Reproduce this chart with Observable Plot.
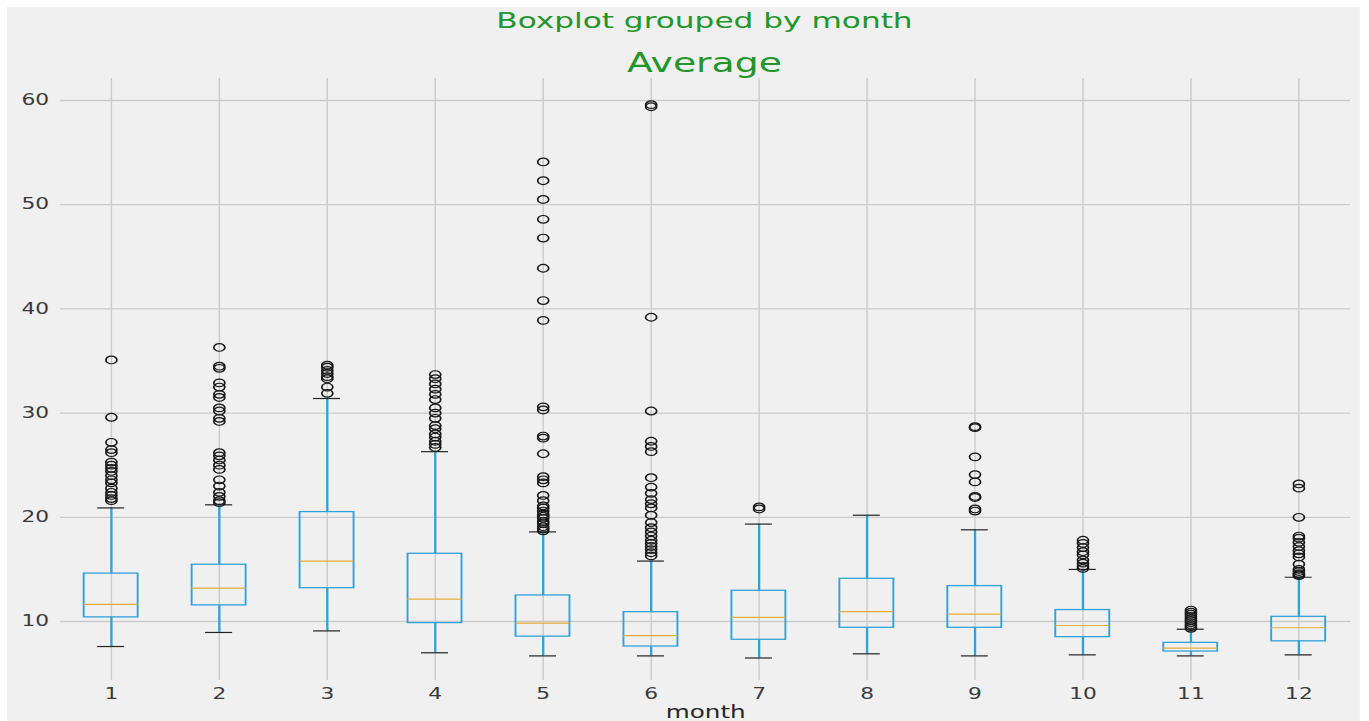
<!DOCTYPE html>
<html>
<head>
<meta charset="utf-8">
<script src="https://cdn.jsdelivr.net/npm/d3@7"></script>
<script src="https://cdn.jsdelivr.net/npm/@observablehq/plot@0.6"></script>
<style>
  html, body { margin: 0; padding: 0; background: #ffffff; overflow: hidden; width: 1369px; height: 721px; }
  #fig {
    position: absolute; left: 7px; top: 7px;
    width: 933px; height: 714px;
    background: #f0f0f0;
    transform: scaleX(1.45); transform-origin: 0 0;
    font-family: "DejaVu Sans", sans-serif;
  }
  .title1, .title2 {
    position: absolute; left: 481px; transform: translateX(-50%);
    white-space: nowrap; color: #22962a; line-height: 1.164;
  }
  .title1 { top: 1px; font-size: 21.5px; }
  .title2 { top: 41px; font-size: 26px; }
  #chart { position: absolute; left: 0; top: 65px; }
</style>
</head>
<body>
<div id="fig">
  <div class="title1">Boxplot grouped by month</div>
  <div class="title2">Average</div>
  <div id="chart"></div>
</div>
<script>
// ---- data ----
const months      = [1, 2, 3, 4, 5, 6, 7, 8, 9, 10, 11, 12];
const q1          = [10.4, 11.55, 13.2, 9.85, 8.55, 7.6, 8.25, 9.4, 9.4, 8.5, 7.12, 8.1];
const median      = [11.65, 13.2, 15.8, 12.15, 9.85, 8.65, 10.4, 10.95, 10.7, 9.62, 7.44, 9.4];
const q3          = [14.6, 15.45, 20.5, 16.5, 12.5, 10.9, 12.95, 14.1, 13.4, 11.1, 7.95, 10.45];
const whiskerLow  = [7.6, 8.95, 9.1, 7.0, 6.7, 6.7, 6.5, 6.9, 6.7, 6.8, 6.7, 6.8];
const whiskerHigh = [20.9, 21.2, 31.4, 26.3, 18.6, 15.8, 19.35, 20.2, 18.8, 15.0, 9.26, 14.25];
const outliers = [
  [35.1, 29.6, 27.2, 26.5, 26.2, 25.3, 25.0, 24.7, 24.4, 24.0, 23.6, 23.3, 22.8, 22.4, 22.1, 21.8, 21.6],
  [36.3, 34.5, 34.3, 32.9, 32.5, 31.8, 31.5, 30.5, 30.2, 29.5, 29.2, 26.2, 25.9, 25.5, 25.0, 24.6, 23.6, 23.0, 22.4, 22.0, 21.6, 21.4],
  [34.6, 34.4, 34.1, 33.8, 33.5, 33.3, 32.5, 31.9],
  [33.7, 33.3, 32.8, 32.3, 31.8, 31.3, 30.5, 30.0, 29.5, 28.8, 28.5, 28.0, 27.7, 27.3, 27.0, 26.7],
  [54.1, 52.3, 50.5, 48.6, 46.8, 43.9, 40.8, 38.9, 30.6, 30.3, 27.8, 27.6, 26.1, 23.9, 23.6, 23.3, 22.1, 21.6, 21.1, 20.9, 20.6, 20.3, 20.1, 19.9, 19.6, 19.4, 19.1, 18.9, 18.7],
  [59.6, 59.4, 39.2, 30.2, 27.3, 26.8, 26.3, 23.8, 22.9, 22.3, 21.7, 21.3, 20.9, 20.2, 19.5, 19.0, 18.6, 18.2, 17.8, 17.5, 17.2, 16.9, 16.6, 16.3],
  [21.0, 20.8],
  [],
  [28.7, 28.6, 25.8, 24.1, 23.4, 22.0, 21.9, 20.8, 20.6],
  [17.8, 17.5, 17.1, 16.7, 16.4, 15.9, 15.6, 15.3, 15.1],
  [11.1, 10.9, 10.7, 10.5, 10.3, 10.1, 9.9, 9.7, 9.5, 9.35],
  [23.2, 22.8, 20.0, 18.2, 18.0, 17.6, 17.2, 16.8, 16.5, 16.2, 15.5, 15.0, 14.8, 14.6, 14.5, 14.4]
];
const yTicks = [10, 20, 30, 40, 50, 60];
const xLabel = "month";

// ---- tables built from the arrays ----
const stats = months.map((m, i) => ({
  month: m, q1: q1[i], med: median[i], q3: q3[i], lo: whiskerLow[i], hi: whiskerHigh[i]
}));
const outlierRows = months.flatMap((m, i) => outliers[i].map(v => ({month: m, value: v})));

const boxHalf = 0.25, capHalf = 0.125;
const blue = "#30a2da", gold = "#e5ae38";

const chart = Plot.plot({
  width: 933,
  height: 649,
  marginLeft: 36.5,
  marginRight: 6.8,
  marginTop: 6,
  marginBottom: 41,
  style: { background: "transparent", fontFamily: "DejaVu Sans, sans-serif", fontSize: "15px", color: "#3a3a3a" },
  x: { type: "linear", domain: [0.53, 12.48], ticks: months, tickSize: 0, tickPadding: 8, tickFormat: d => String(d), label: null },
  y: { domain: [4.34, 62.11], ticks: yTicks, tickSize: 0, tickPadding: 8, label: null },
  marks: [
    Plot.gridY(yTicks, { stroke: "#cbcbcb", strokeOpacity: 1, strokeWidth: 1.3 }),
    Plot.gridX(months, { stroke: "#cbcbcb", strokeOpacity: 1, strokeWidth: 1 }),
    Plot.ruleX(stats, { x: "month", y1: "lo", y2: "q1", stroke: blue, strokeWidth: 1.6 }),
    Plot.ruleX(stats, { x: "month", y1: "q3", y2: "hi", stroke: blue, strokeWidth: 1.6 }),
    Plot.rect(stats, { x1: d => d.month - boxHalf, x2: d => d.month + boxHalf, y1: "q1", y2: "q3", fill: "none", stroke: blue, strokeWidth: 1.3 }),
    Plot.ruleY(stats, { y: "med", x1: d => d.month - boxHalf, x2: d => d.month + boxHalf, stroke: gold, strokeWidth: 1.2 }),
    Plot.ruleY(stats, { y: "lo", x1: d => d.month - capHalf, x2: d => d.month + capHalf, stroke: "#222", strokeWidth: 1.2 }),
    Plot.ruleY(stats, { y: "hi", x1: d => d.month - capHalf, x2: d => d.month + capHalf, stroke: "#222", strokeWidth: 1.2 }),
    Plot.dot(outlierRows, { x: "month", y: "value", r: 3.8, fill: "none", stroke: "#1a1a1a", strokeWidth: 1.2 }),
    Plot.text([xLabel], { text: d => d, frameAnchor: "bottom", dy: 37, fontSize: 17, fill: "#262626" })
  ]
});
document.getElementById("chart").appendChild(chart);
</script>
</body>
</html>
